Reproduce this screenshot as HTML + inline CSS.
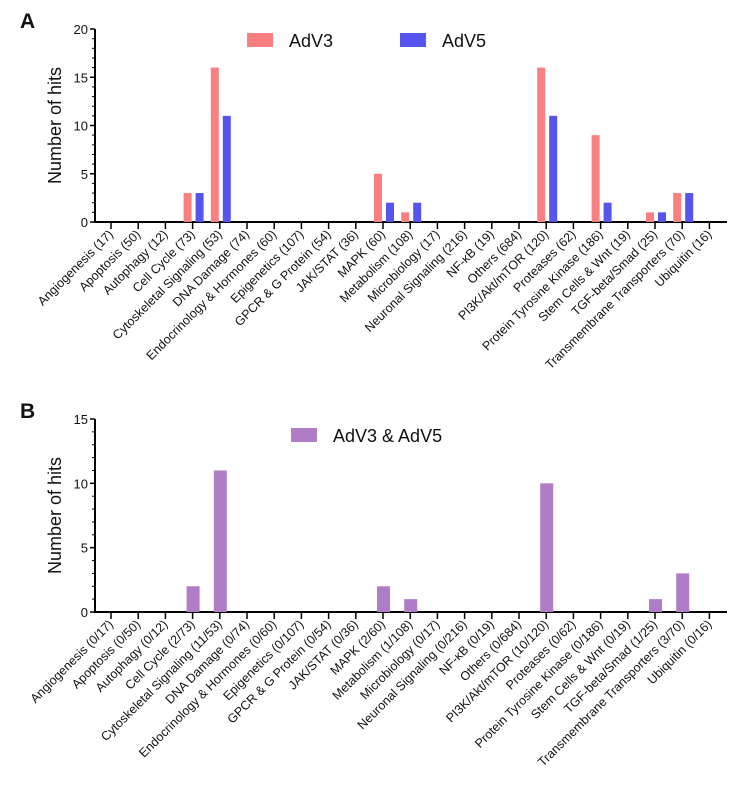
<!DOCTYPE html>
<html><head><meta charset="utf-8"><style>
body{margin:0;background:#fff;width:739px;height:795px;overflow:hidden}
svg text{font-family:"Liberation Sans",Arial,sans-serif;fill:#111}
</style></head><body>
<svg id="svg" width="739" height="795"></svg>
<script>
const categoriesA=["Angiogenesis (17)","Apoptosis (50)","Autophagy (12)","Cell Cycle (73)","Cytoskeletal Signaling (53)","DNA Damage (74)","Endocrinology & Hormones (60)","Epigenetics (107)","GPCR & G Protein (54)","JAK/STAT (36)","MAPK (60)","Metabolism (108)","Microbiology (17)","Neuronal Signaling (216)","NF-κB (19)","Others (684)","PI3K/Akt/mTOR (120)","Proteases (62)","Protein Tyrosine Kinase (186)","Stem Cells & Wnt (19)","TGF-beta/Smad (25)","Transmembrane Transporters (70)","Ubiquitin (16)"];
const adv3=[0,0,0,3,16,0,0,0,0,0,5,1,0,0,0,0,16,0,9,0,1,3,0];
const adv5=[0,0,0,3,11,0,0,0,0,0,2,2,0,0,0,0,11,0,2,0,1,3,0];
const categoriesB=["Angiogenesis (0/17)","Apoptosis (0/50)","Autophagy (0/12)","Cell Cycle (2/73)","Cytoskeletal Signaling (11/53)","DNA Damage (0/74)","Endocrinology & Hormones (0/60)","Epigenetics (0/107)","GPCR & G Protein (0/54)","JAK/STAT (0/36)","MAPK (2/60)","Metabolism (1/108)","Microbiology (0/17)","Neuronal Signaling (0/216)","NF-κB (0/19)","Others (0/684)","PI3K/Akt/mTOR (10/120)","Proteases (0/62)","Protein Tyrosine Kinase (0/186)","Stem Cells & Wnt (0/19)","TGF-beta/Smad (1/25)","Transmembrane Transporters (3/70)","Ubiquitin (0/16)"];
const both=[0,0,0,2,11,0,0,0,0,0,2,1,0,0,0,0,10,0,0,0,1,3,0];
const ticksA=[0,5,10,15,20];
const ticksB=[0,5,10,15];

const NS="http://www.w3.org/2000/svg";
const svg=document.getElementById('svg');
function el(t,a,p){const e=document.createElementNS(NS,t);for(const k in a)e.setAttribute(k,a[k]);(p||svg).appendChild(e);return e;}

function panel(o){
  const g=el('g',{});
  
  
  const x=i=>111+i*27.2;
  const y=v=>o.y0-(v/o.max)*(o.y0-o.yTop);
  // axes
  const ya=el('line',{x1:95,x2:95,y1:o.yTop,y2:o.y0+1,stroke:'#000','stroke-width':2},g);
  
  const xa=el('line',{x1:94,x2:727,y1:o.y0,y2:o.y0,stroke:'#000','stroke-width':2},g);
  
  // minor ticks
  for(let v=0;v<=o.max;v+=1){el('line',{x1:92,x2:95,y1:y(v),y2:y(v),stroke:'#000','stroke-width':1},g);}
  o.ticks.forEach(v=>{
    el('line',{x1:90,x2:95,y1:y(v),y2:y(v),stroke:'#000','stroke-width':1.5},g);
    const t=el('text',{x:88,y:y(v)+5,'text-anchor':'end','font-size':13},g);t.textContent=v;
    
  });
  const yt=el('text',{x:0,y:0,'text-anchor':'middle','font-size':18,transform:`translate(61,${(o.y0+o.yTop)/2}) rotate(-90)`},g);
  yt.textContent='Number of hits';
  o.cats.forEach((c,i)=>{
    el('line',{x1:x(i),x2:x(i),y1:o.y0,y2:o.y0+7,stroke:'#000','stroke-width':1.5},g);
    const t=el('text',{x:0,y:0,'text-anchor':'end','font-size':12.5,transform:`translate(${x(i)+3},${o.y0+13}) rotate(-45)`},g);
    t.textContent=c;
  });
  o.series.forEach(s=>{
    s.vals.forEach((v,i)=>{
      if(!v)return;
      const r=el('rect',{x:x(i)+s.off,y:y(v),width:s.w,height:o.y0-y(v),fill:s.color},g);
      
      
    });
  });
  const L=el('text',{x:20,y:o.labelY,'font-size':21,'font-weight':'bold'},g);
  L.textContent=o.label;
  o.legend.forEach(l=>{
    const r=el('rect',{x:l.x,y:l.y,width:26,height:14,fill:l.color},g);
    
    const t=el('text',{x:l.x+42,y:l.y+14,'font-size':18},g);t.textContent=l.text;
    
  });
}
panel({name:'chart-a',label:'A',labelY:28,y0:222,yTop:29,max:20,ticks:ticksA,cats:categoriesA,
  series:[{key:'adv3',vals:adv3,color:'#f88080',off:-9,w:8},{key:'adv5',vals:adv5,color:'#5555ee',off:3,w:8}],
  legend:[{x:247,y:33,color:'#f88080',text:'AdV3'},{x:400,y:33,color:'#5555ee',text:'AdV5'}]});
panel({name:'chart-b',label:'B',labelY:418,y0:612,yTop:419,max:15,ticks:ticksB,cats:categoriesB,
  series:[{key:'both',vals:both,color:'#b07cc6',off:-6,w:13}],
  legend:[{x:291,y:428,color:'#b07cc6',text:'AdV3 & AdV5'}]});
</script>
</body></html>
